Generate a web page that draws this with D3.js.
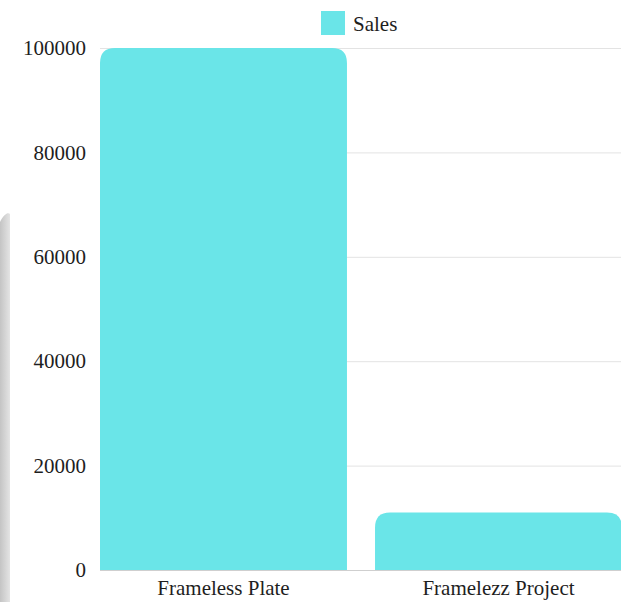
<!DOCTYPE html>
<html><head><meta charset="utf-8">
<script src="https://cdn.jsdelivr.net/npm/d3@7"></script>
<style>html,body{margin:0;padding:0;background:#fff;overflow:hidden}</style>
</head><body>
<svg id="c" width="621" height="602"></svg>
<script>
const categories = ["Frameless Plate", "Framelezz Project"];
const sales = [100000, 11000];
const yTicks = [0, 20000, 40000, 60000, 80000, 100000];
const seriesName = "Sales";

const W = 621, H = 602;
const m = {left: 100, right: 0, top: 48, bottom: 32};
const color = "#6ae5e8";
const font = "'Liberation Serif', 'Times New Roman', serif";
const fs = 21;
const svg = d3.select("#c");

// faint background watermark on left edge
const defs = svg.append("defs");
const g1 = defs.append("linearGradient").attr("id","wm").attr("x1",0).attr("x2",1);
g1.append("stop").attr("offset","0%").attr("stop-color","#c4c4c4");
g1.append("stop").attr("offset","100%").attr("stop-color","#e4e4e4");
svg.append("path")
  .attr("d","M0,222 C4,214 8,212 10,214 L10,602 L0,602 Z")
  .attr("fill","url(#wm)");

const x = d3.scaleBand().domain(categories).range([m.left, 622]).paddingInner(0.102).paddingOuter(0);
const y = d3.scaleLinear().domain([0, 100000]).range([H - m.bottom, m.top]);

// grid
svg.append("g").selectAll("line").data(yTicks.filter(d=>d>0)).join("line")
  .attr("x1", m.left).attr("x2", W)
  .attr("y1", d=>y(d)+0.5).attr("y2", d=>y(d)+0.5)
  .attr("stroke","#e3e3e3").attr("stroke-width",1);

// bars with rounded top corners
const r = 15;
function barPath(x0, w, yTop, yBot){
  const rr = Math.min(r, (yBot-yTop), w/2);
  return `M${x0},${yBot}V${yTop+rr}Q${x0},${yTop} ${x0+rr},${yTop}H${x0+w-rr}Q${x0+w},${yTop} ${x0+w},${yTop+rr}V${yBot}Z`;
}
svg.append("g").selectAll("path").data(categories).join("path")
  .attr("d",(d,i)=>barPath(x(d), x.bandwidth(), y(sales[i]), y(0)))
  .attr("fill", color);

// baseline
svg.append("line").attr("x1",m.left).attr("x2",W).attr("y1",y(0)+0.5).attr("y2",y(0)+0.5)
  .attr("stroke","#cfcfcf").attr("stroke-width",1);

// y axis labels
const yAxis = d3.axisLeft(y).tickValues(yTicks).tickSize(0).tickPadding(14).tickFormat(d3.format("d"));
const ya = svg.append("g").attr("transform",`translate(${m.left},0)`).call(yAxis);
ya.select(".domain").remove();
ya.selectAll("text").attr("font-family",font).attr("font-size",fs).attr("fill","#1e1e1e");

// x axis labels
const xAxis = d3.axisBottom(x).tickSize(0).tickPadding(10);
const xa = svg.append("g").attr("transform",`translate(0,${y(0)})`).call(xAxis);
xa.select(".domain").remove();
xa.selectAll("text").attr("font-family",font).attr("font-size",fs).attr("fill","#1e1e1e");

// legend
const lg = svg.append("g").attr("transform","translate(321,11)");
lg.append("rect").attr("width",24).attr("height",24).attr("fill",color);
lg.append("text").attr("x",32).attr("y",20).text(seriesName)
  .attr("font-family",font).attr("font-size",fs).attr("fill","#1e1e1e");
</script>
</body></html>
